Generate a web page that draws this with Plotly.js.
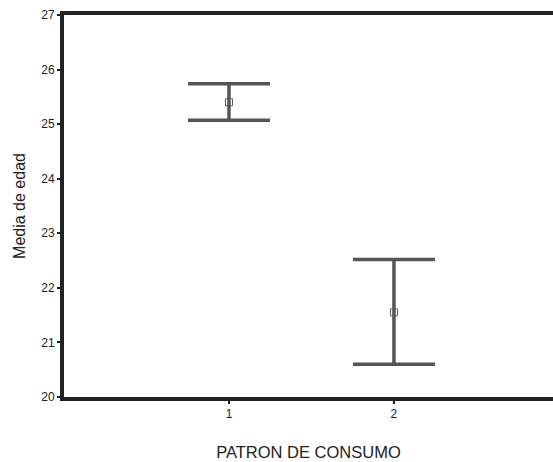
<!DOCTYPE html>
<html>
<head>
<meta charset="utf-8">
<script src="https://cdn.plot.ly/plotly-3.0.1.min.js"></script>
<style>html,body{margin:0;padding:0;background:#fff;}#chart{width:553px;height:462px;}</style>
</head>
<body>
<div id="chart"></div>
<script>
const categories = [1, 2];
const means = [25.40, 21.55];
const upper = [25.74, 22.52];
const lower = [25.07, 20.60];
const yTicks = [20, 21, 22, 23, 24, 25, 26, 27];

const trace = {
  x: categories,
  y: means,
  type: 'scatter',
  mode: 'markers',
  marker: {symbol: 'square-open', size: 7, color: '#5a5a5a', line: {width: 1, color: '#5a5a5a'}},
  error_y: {
    type: 'data',
    symmetric: false,
    array: upper.map((u, i) => u - means[i]),
    arrayminus: lower.map((l, i) => means[i] - l),
    color: '#555555',
    thickness: 3.5,
    width: 41
  },
  hoverinfo: 'skip',
  showlegend: false
};

const layout = {
  width: 553, height: 462,
  margin: {l: 64, r: 0, t: 15, b: 65},
  paper_bgcolor: '#fff', plot_bgcolor: '#fff',
  font: {family: 'Liberation Sans, Arial, sans-serif', color: '#222'},
  xaxis: {
    range: [0, 2.964],
    tickvals: categories, ticktext: categories.map(String),
    showgrid: false, zeroline: false,
    showline: true, linecolor: '#222', linewidth: 4, mirror: true,
    ticks: 'outside', ticklen: 3, tickwidth: 2, tickcolor: '#222',
    tickfont: {size: 12, color: '#222'},
    title: {text: 'PATRON DE CONSUMO', font: {size: 16.5, color: '#222'}, standoff: 27}
  },
  yaxis: {
    range: [20, 27],
    tickvals: yTicks, ticktext: yTicks.map(String),
    showgrid: false, zeroline: false,
    showline: true, linecolor: '#222', linewidth: 4,
    ticks: 'outside', ticklen: 3, tickwidth: 2, tickcolor: '#222',
    tickfont: {size: 12, color: '#222'},
    title: {text: 'Media de edad', font: {size: 16, color: '#222'}, standoff: 13}
  }
};

Plotly.newPlot('chart', [trace], layout, {displayModeBar: false, staticPlot: true});
</script>
</body>
</html>
